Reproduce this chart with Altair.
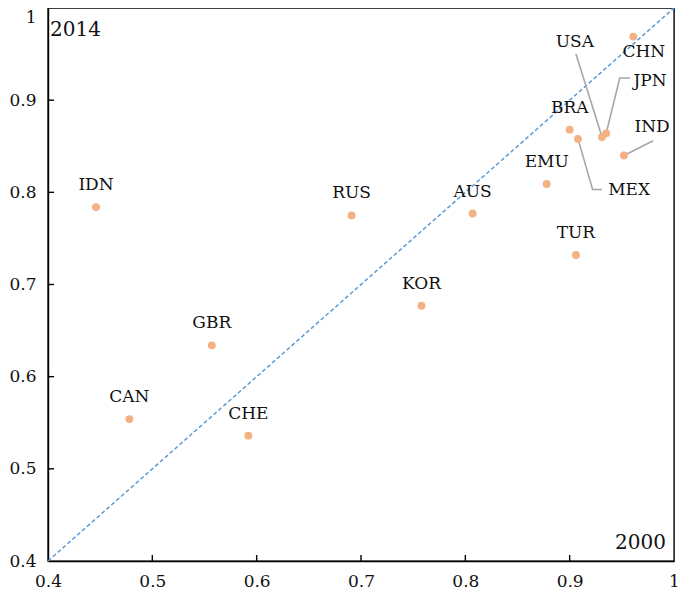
import altair as alt
import pandas as pd

# ---- data ----
countries = ["IDN", "CAN", "GBR", "CHE", "RUS", "KOR", "AUS", "EMU", "TUR",
             "BRA", "MEX", "USA", "JPN", "IND", "CHN"]
x2000 = [0.446, 0.478, 0.557, 0.592, 0.691, 0.758, 0.807, 0.878, 0.906,
         0.900, 0.908, 0.931, 0.935, 0.952, 0.961]
y2014 = [0.784, 0.554, 0.634, 0.536, 0.775, 0.677, 0.777, 0.809, 0.732,
         0.868, 0.858, 0.860, 0.864, 0.840, 0.969]

# labels placed away from their dots (with leader lines)
callout_names = ["USA", "CHN", "JPN", "IND", "MEX"]
callout_x = [0.905, 0.971, 0.977, 0.979, 0.957]
callout_y = [0.963, 0.952, 0.921, 0.871, 0.802]

leader_name = ["USA", "USA", "JPN", "JPN", "JPN", "IND", "IND", "MEX", "MEX", "MEX"]
leader_order = [0, 1, 0, 1, 2, 0, 1, 0, 1, 2]
leader_x = [0.906, 0.931, 0.958, 0.948, 0.935, 0.980, 0.952, 0.908, 0.922, 0.931]
leader_y = [0.950, 0.860, 0.924, 0.924, 0.864, 0.856, 0.840, 0.858, 0.803, 0.803]

diag = [0.4, 1.0]
tick_values = [0.4, 0.5, 0.6, 0.7, 0.8, 0.9, 1.0]
inner_ticks = [0.5, 0.6, 0.7, 0.8, 0.9]

W, H = 626, 553
FONT = "DejaVu Serif"

pts = pd.DataFrame({"c": countries, "x": x2000, "y": y2014})
plain = pts[~pts["c"].isin(callout_names)]
calls = pd.DataFrame({"c": callout_names, "x": callout_x, "y": callout_y})
leaders = pd.DataFrame({"c": leader_name, "o": leader_order, "x": leader_x, "y": leader_y})
diag_df = pd.DataFrame({"x": diag, "y": diag})
ticks_df = pd.DataFrame({"v": inner_ticks})

xs = alt.Scale(domain=[0.4, 1.0], nice=False, zero=False)
ys = alt.Scale(domain=[0.4, 1.0], nice=False, zero=False)

xaxis = alt.Axis(values=tick_values, format="~g", grid=False, ticks=False, tickSize=0,
                 domainColor="black", domainWidth=1.4, labelPadding=12, labelFlush=False,
                 labelFont=FONT, labelFontSize=17, labelColor="#111111", title=None)
yaxis = alt.Axis(values=tick_values, format="~g", grid=False, ticks=False, tickSize=0,
                 domainColor="black", domainWidth=1.4, labelPadding=12, labelFlush=False,
                 labelFont=FONT, labelFontSize=17, labelColor="#111111", title=None,
                 labelBaseline={"condition": {"test": "datum.value === 1", "value": "top"},
                                "value": "middle"},
                 labelOffset={"condition": {"test": "datum.value === 1", "value": 1},
                              "value": 0})

base_x = alt.X("x:Q", scale=xs, axis=xaxis)
base_y = alt.Y("y:Q", scale=ys, axis=yaxis)

diag_line = alt.Chart(diag_df).mark_line(
    color="#5B9BD5", strokeWidth=1.5, strokeDash=[4, 2.5]
).encode(x=base_x, y=base_y)

leader_lines = alt.Chart(leaders).mark_line(
    color="#A6A6A6", strokeWidth=1.6
).encode(x=alt.X("x:Q", scale=xs), y=alt.Y("y:Q", scale=ys),
         detail="c:N", order="o:Q")

dots = alt.Chart(pts).mark_circle(
    color="#F4B183", size=62, opacity=1
).encode(x=alt.X("x:Q", scale=xs), y=alt.Y("y:Q", scale=ys))

plain_labels = alt.Chart(plain).mark_text(
    font=FONT, fontSize=17, color="#111111", dy=-22, baseline="middle", align="center"
).encode(x=alt.X("x:Q", scale=xs), y=alt.Y("y:Q", scale=ys), text="c:N")

call_labels = alt.Chart(calls).mark_text(
    font=FONT, fontSize=17, color="#111111", baseline="middle", align="center"
).encode(x=alt.X("x:Q", scale=xs), y=alt.Y("y:Q", scale=ys), text="c:N")

xticks = alt.Chart(ticks_df).mark_rule(color="black", strokeWidth=1.4).encode(
    x=alt.X("v:Q", scale=xs), y=alt.value(H), y2=alt.value(H - 6))
yticks = alt.Chart(ticks_df).mark_rule(color="black", strokeWidth=1.4).encode(
    y=alt.Y("v:Q", scale=ys), x=alt.value(0), x2=alt.value(6))

y2014_txt = alt.Chart(pd.DataFrame({"t": ["2014"]})).mark_text(
    font=FONT, fontSize=20, color="#111111", align="left", baseline="middle"
).encode(text="t:N", x=alt.value(2), y=alt.value(22))
y2000_txt = alt.Chart(pd.DataFrame({"t": ["2000"]})).mark_text(
    font=FONT, fontSize=20, color="#111111", align="right", baseline="middle"
).encode(text="t:N", x=alt.value(618), y=alt.value(H - 18))

chart = alt.layer(
    diag_line, leader_lines, dots, plain_labels, call_labels,
    xticks, yticks, y2014_txt, y2000_txt
).properties(
    width=W, height=H,
    autosize=alt.AutoSizeParams(type="none"),
    padding={"left": 40, "top": 0, "right": 6, "bottom": 30},
    background="white",
).configure_view(stroke="black", strokeWidth=1.4)

chart.save("out.html", embed_options={"renderer": "svg", "actions": False})
